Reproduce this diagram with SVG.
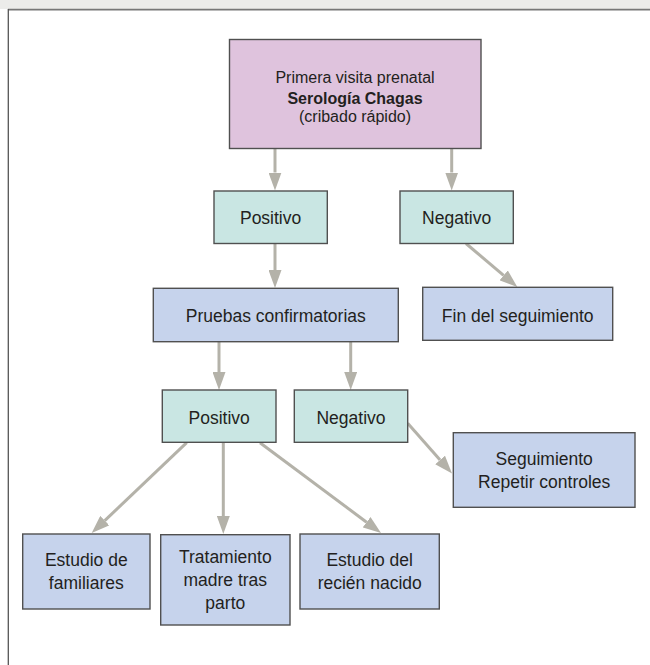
<svg xmlns="http://www.w3.org/2000/svg" width="650" height="665" viewBox="0 0 650 665">
<defs>
<style>
.box{stroke:#505050;stroke-width:1.4}
.pink{fill:#dfc3dd}
.teal{fill:#c9e6e3}
.blue{fill:#c6d3ec}
.t{font-family:"Liberation Sans",Arial,sans-serif;font-size:17.5px;fill:#231f20;text-anchor:middle}
.tt{font-family:"Liberation Sans",Arial,sans-serif;font-size:16px;fill:#231f20;text-anchor:middle}
.b{font-weight:bold}
.c{stroke:#b4b2a9;stroke-width:3;fill:none;marker-end:url(#ah)}
</style>
<marker id="ah" markerUnits="userSpaceOnUse" markerWidth="18" markerHeight="13" refX="0" refY="6.5" orient="auto" viewBox="0 0 18 13">
<path d="M0,0 L18,6.5 L0,13 Z" fill="#b4b2a9"/>
</marker>
</defs>
<rect x="0" y="0" width="650" height="665" fill="#ffffff"/>
<rect x="0" y="0" width="650" height="9" fill="#ececea"/>
<line x1="8" y1="9.6" x2="650" y2="9.6" stroke="#777" stroke-width="1.6"/>
<line x1="8.3" y1="9" x2="8.3" y2="665" stroke="#555" stroke-width="1.3"/>

<g id="connectors">
<line class="c" x1="275" y1="148.5" x2="275" y2="172.5"/>
<line class="c" x1="451.7" y1="148.5" x2="451.7" y2="172.5"/>
<line class="c" x1="275" y1="243.5" x2="275" y2="270"/>
<line class="c" x1="466" y1="243.5" x2="503.6" y2="275.4"/>
<line class="c" x1="219" y1="341.7" x2="219" y2="372"/>
<line class="c" x1="350.7" y1="341.7" x2="350.7" y2="372"/>
<line class="c" x1="407.7" y1="423.3" x2="440.1" y2="460"/>
<line class="c" x1="186.7" y1="442.7" x2="104.75" y2="520.6"/>
<line class="c" x1="223.3" y1="442.7" x2="223.3" y2="516"/>
<line class="c" x1="260" y1="442.7" x2="366.6" y2="522.2"/>
</g>

<g id="n-top">
<rect class="box pink" x="229.5" y="39.5" width="251.5" height="109"/>
<text class="tt" x="355" y="83">Primera visita prenatal</text>
<text class="tt b" x="355" y="104">Serología Chagas</text>
<text class="tt" x="355" y="122">(cribado rápido)</text>
</g>
<g id="n-pos1">
<rect class="box teal" x="214" y="191" width="113.3" height="52.5"/>
<text class="t" x="270.6" y="224">Positivo</text>
</g>
<g id="n-neg1">
<rect class="box teal" x="400" y="191" width="113.3" height="52.5"/>
<text class="t" x="456.6" y="224">Negativo</text>
</g>
<g id="n-pruebas">
<rect class="box blue" x="153.3" y="288.3" width="245" height="53.4"/>
<text class="t" x="275.8" y="321.5">Pruebas confirmatorias</text>
</g>
<g id="n-fin">
<rect class="box blue" x="422.7" y="287.3" width="190" height="53"/>
<text class="t" x="517.7" y="321.5">Fin del seguimiento</text>
</g>
<g id="n-pos2">
<rect class="box teal" x="162.3" y="390" width="113.7" height="52.3"/>
<text class="t" x="219.2" y="423.5">Positivo</text>
</g>
<g id="n-neg2">
<rect class="box teal" x="294.3" y="390" width="113.4" height="52.3"/>
<text class="t" x="351" y="423.5">Negativo</text>
</g>
<g id="n-seguimiento">
<rect class="box blue" x="453.3" y="432.7" width="181.7" height="74.6"/>
<text class="t" x="544.2" y="465">Seguimiento</text>
<text class="t" x="544.2" y="487.5">Repetir controles</text>
</g>
<g id="n-familiares">
<rect class="box blue" x="22.7" y="534" width="127.3" height="75"/>
<text class="t" x="86.3" y="566">Estudio de</text>
<text class="t" x="86.3" y="589">familiares</text>
</g>
<g id="n-tratamiento">
<rect class="box blue" x="160.7" y="534.7" width="129.3" height="90.3"/>
<text class="t" x="225.3" y="562.5">Tratamiento</text>
<text class="t" x="225.3" y="585.5">madre tras</text>
<text class="t" x="225.3" y="608.5">parto</text>
</g>
<g id="n-recien">
<rect class="box blue" x="300" y="534" width="139.3" height="75"/>
<text class="t" x="369.7" y="566">Estudio del</text>
<text class="t" x="369.7" y="589">recién nacido</text>
</g>
</svg>
